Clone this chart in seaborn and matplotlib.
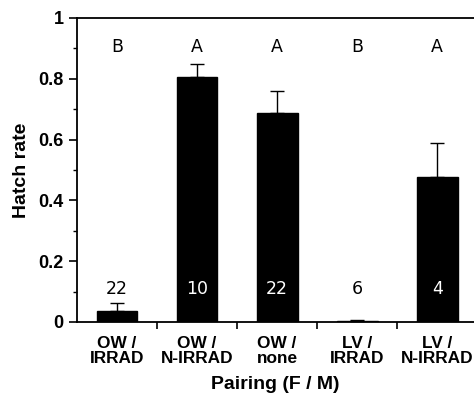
import numpy as np
import pandas as pd
import matplotlib
matplotlib.use("Agg")
import matplotlib.pyplot as plt
import seaborn as sns
from matplotlib.ticker import MultipleLocator

# data
pairings = ["OW /\nIRRAD", "OW /\nN-IRRAD", "OW /\nnone", "LV /\nIRRAD", "LV /\nN-IRRAD"]
hatch_rate = [0.037, 0.805, 0.686, 0.003, 0.477]
err_upper = [0.026, 0.045, 0.075, 0.003, 0.113]
sig_letters = ["B", "A", "A", "B", "A"]
n_pairs = ["22", "10", "22", "6", "4"]

df = pd.DataFrame({"Pairing": pairings, "Hatch": hatch_rate})

sns.set_style("ticks", {"text.color": "black", "axes.labelcolor": "black",
                        "xtick.color": "black", "ytick.color": "black",
                        "axes.edgecolor": "black"})
plt.rcParams["font.family"] = ["Liberation Sans", "DejaVu Sans"]

fig = plt.figure(figsize=(4.74, 3.97), dpi=100)
ax = fig.add_axes([77 / 474, 75 / 397, 1 - 77 / 474, 304 / 397])

sns.barplot(data=df, x="Pairing", y="Hatch", color="black", width=0.51,
            saturation=1, errorbar=None, ax=ax)
for p in ax.patches:
    p.set_edgecolor("black")

x = np.arange(len(pairings))
ax.errorbar(x, hatch_rate, yerr=[np.zeros(len(x)), err_upper], fmt="none",
            ecolor="black", elinewidth=1.0, capsize=5, capthick=1.0)

# group letters and sample sizes
for i in range(len(x)):
    ax.text(x[i], 0.905, sig_letters[i], ha="center", va="center", fontsize=12.5,
            family="DejaVu Sans", color="black")
    col = "white" if hatch_rate[i] > 0.15 else "black"
    ax.text(x[i], 0.108, n_pairs[i], ha="center", va="center", fontsize=12.5,
            family="DejaVu Sans", color=col)

ax.set_ylim(0, 1)
ax.set_xlim(-0.5, 4.46)
ax.yaxis.set_minor_locator(MultipleLocator(0.1))
ax.set_yticks([0, 0.2, 0.4, 0.6, 0.8, 1.0])
ax.set_yticklabels(["0", "0.2", "0.4", "0.6", "0.8", "1"], fontweight="bold", fontsize=13)

# x ticks between the categories, labels at the bars
ax.set_xticks([0.5, 1.5, 2.5, 3.5])
ax.set_xticklabels([])
ax.set_xticks(x, minor=True)
ax.set_xticklabels(pairings, minor=True, fontweight="bold", fontsize=12.4, linespacing=1.05)
ax.tick_params(axis="x", which="minor", length=0, pad=10)
ax.tick_params(axis="x", which="major", length=5, width=1.2, direction="out")
ax.tick_params(axis="y", which="major", length=6, width=1.2, direction="out")
ax.tick_params(axis="y", which="minor", length=3, width=1.0, direction="out")

ax.set_xlabel("Pairing (F / M)", fontweight="bold", fontsize=14, labelpad=7)
ax.set_ylabel("Hatch rate", fontweight="bold", fontsize=14, labelpad=6)

for s in ["left", "bottom", "top"]:
    ax.spines[s].set_linewidth(1.3)
ax.spines["right"].set_visible(False)

plt.savefig("out.png", dpi=100)
plt.close()
